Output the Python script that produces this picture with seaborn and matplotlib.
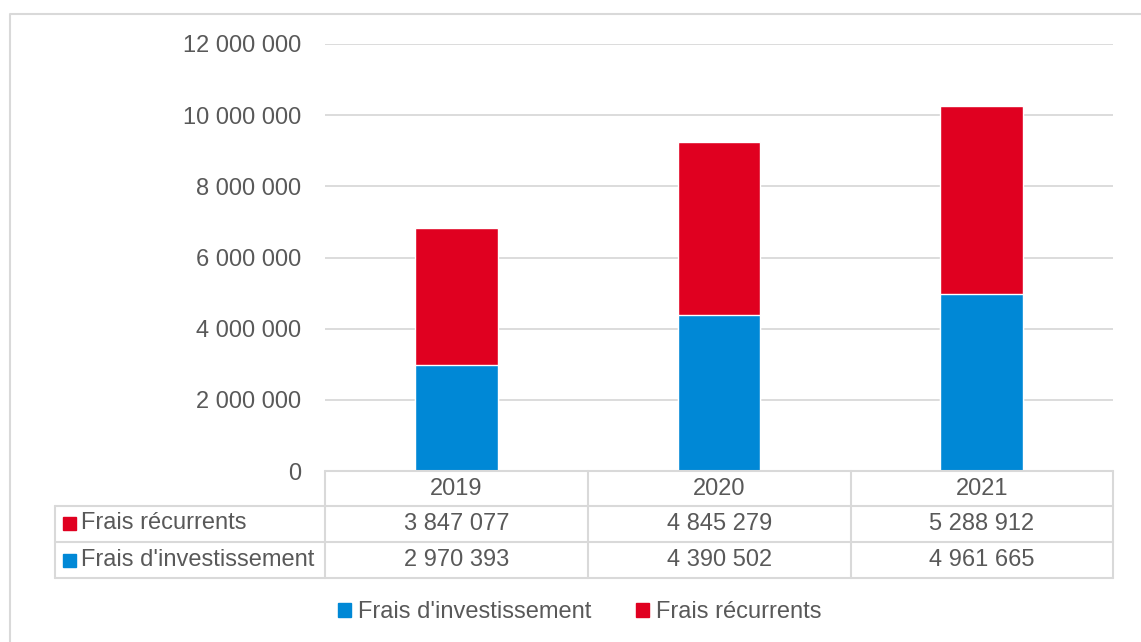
import matplotlib
matplotlib.use('Agg')
import matplotlib.pyplot as plt
from matplotlib.patches import Patch
from matplotlib.ticker import FuncFormatter
import seaborn as sns

# data
years = ['2019', '2020', '2021']
investissement = [2970393, 4390502, 4961665]
recurrents = [3847077, 4845279, 5288912]
series_names = ["Frais d'investissement", 'Frais récurrents']

BLUE = '#0088D6'
RED = '#E00020'
GRID = '#D9D9D9'
TXT = '#595959'
FS = 17


def fmt(v):
    return f'{int(v):,}'.replace(',', ' ')


sns.set_theme(style='white')
plt.rcParams['font.family'] = ['Liberation Sans', 'DejaVu Sans']

W, H = 1141, 642
fig = plt.figure(figsize=(W / 100, H / 100), dpi=100)


def px(x0, y0, x1, y1):
    # pixel box -> figure fraction rect
    return [x0 / W, 1 - y1 / H, (x1 - x0) / W, (y1 - y0) / H]


ax = fig.add_axes(px(325, 44, 1113, 471))
totals = [a + b for a, b in zip(investissement, recurrents)]
sns.barplot(x=years, y=totals, color=RED, saturation=1, width=0.315, ax=ax, zorder=3)
sns.barplot(x=years, y=investissement, color=BLUE, saturation=1, width=0.315, ax=ax, zorder=3)
ax.set_xlim(-0.5, 2.5)
ax.set_ylim(0, 12000000)
ax.set_yticks(range(0, 12000001, 2000000))
ax.yaxis.set_major_formatter(FuncFormatter(lambda v, p: fmt(v)))
ax.grid(axis='y', color=GRID, linewidth=1.3, zorder=0)
ax.tick_params(axis='y', length=0, pad=17, labelsize=FS, labelcolor=TXT)
ax.set_xticks([])
ax.set_xlabel('')
ax.set_ylabel('')
for s in ax.spines.values():
    s.set_visible(False)

# overlay for the data table and border
ov = fig.add_axes([0, 0, 1, 1], zorder=5)
ov.set_xlim(0, W)
ov.set_ylim(H, 0)
ov.axis('off')
ov.patch.set_alpha(0)

lw = 1.5
# outer chart border
ov.plot([10, 10, W + 5], [H + 5, 14, 14], color=GRID, lw=1.5)

cols = [325, 588, 851, 1113]
rows = [471, 506, 542, 578]
ov.plot([325, 1113], [471, 471], color=GRID, lw=lw)
for y in rows[1:]:
    ov.plot([55, 1113], [y, y], color=GRID, lw=lw)
for x in cols:
    ov.plot([x, x], [471, 578], color=GRID, lw=lw)
ov.plot([55, 55], [506, 578], color=GRID, lw=lw)

for i, yr in enumerate(years):
    cx = (cols[i] + cols[i + 1]) / 2
    ov.text(cx, 489, yr, ha='center', va='center', fontsize=FS, color=TXT)
    ov.text(cx, 524, fmt(recurrents[i]), ha='center', va='center', fontsize=FS, color=TXT)
    ov.text(cx, 560, fmt(investissement[i]), ha='center', va='center', fontsize=FS, color=TXT)

for yc, name, c in [(523, series_names[1], RED), (560, series_names[0], BLUE)]:
    ov.add_patch(plt.Rectangle((63, yc - 6.5), 13, 13, color=c))
    ov.text(81, yc, name, ha='left', va='center', fontsize=FS, color=TXT)

handles = [Patch(color=BLUE, label=series_names[0]), Patch(color=RED, label=series_names[1])]
fig.legend(handles=handles, loc='center', bbox_to_anchor=(580 / W, 1 - 612 / H), ncol=2,
           frameon=False, fontsize=FS, labelcolor=TXT, handlelength=0.55, handleheight=0.55,
           handletextpad=0.3, columnspacing=1.9, borderpad=0)

fig.savefig('out.png', dpi=100)
